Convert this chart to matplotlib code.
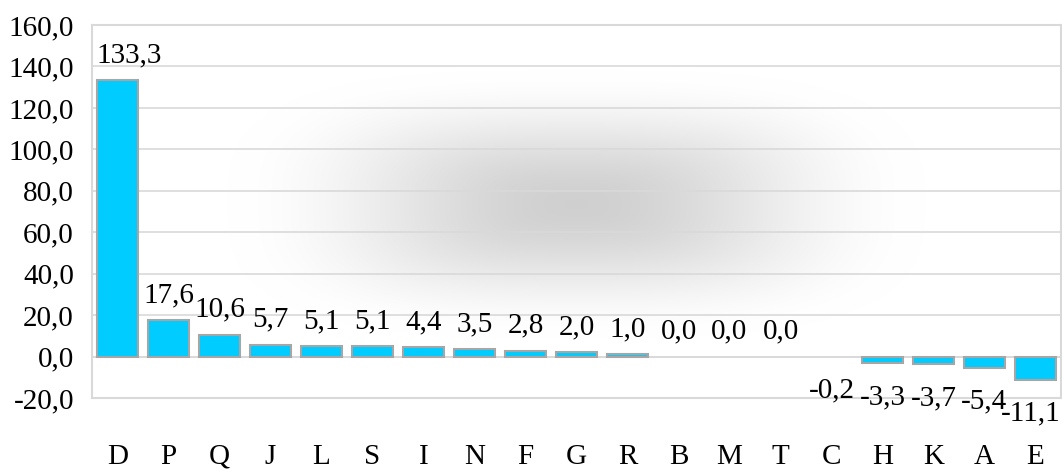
import numpy as np
import matplotlib
matplotlib.use("Agg")
import matplotlib.pyplot as plt
from matplotlib.ticker import FuncFormatter
from matplotlib.transforms import ScaledTranslation

categories = ["D", "P", "Q", "J", "L", "S", "I", "N", "F", "G", "R", "B", "M", "T", "C", "H", "K", "A", "E"]
values = [133.3, 17.6, 10.6, 5.7, 5.1, 5.1, 4.4, 3.5, 2.8, 2.0, 1.0, 0.0, 0.0, 0.0, -0.2, -3.3, -3.7, -5.4, -11.1]
y_ticks = [-20, 0, 20, 40, 60, 80, 100, 120, 140, 160]

plt.rcParams['font.family'] = ['Liberation Serif', 'DejaVu Serif']
FS = 21

fig = plt.figure(figsize=(10.62, 4.70), dpi=100)
ax = fig.add_axes([92/1062, 72/470, (1061-92)/1062, (398-25)/470])

# background gradient (soft blob from center)
nx, ny = 800, 400
xs = np.linspace(-1, 1, nx)
ys = np.linspace(-1, 1, ny)
X, Y = np.meshgrid(xs, ys)
p = 3.0
d = ((np.abs(X) / 0.72) ** p + (np.abs(Y + 0.04) / 0.72) ** p) ** (1 / p)
d = np.clip(d, 0, 1)
s = d * d * (3 - 2 * d)
g = 0.815 + 0.185 * s
img = np.dstack([g, g, g])
ax.imshow(img, extent=(0, 1, 0, 1), transform=ax.transAxes, aspect='auto', zorder=0, interpolation='bilinear')

x = np.arange(len(categories))
lws = [0 if abs(v) < 0.5 else 1.5 for v in values]
ax.bar(x, values, width=0.82, color='#00CCFF', edgecolor='#A6A6A6', linewidth=lws, zorder=3)

texts = []
for xi, v in zip(x, values):
    lbl = f"{v:.1f}".replace('.', ',')
    if v >= 0:
        t = ax.annotate(lbl, (xi, v), xytext=(0, 13), textcoords='offset points',
                        ha='center', va='baseline', fontsize=FS, zorder=4, annotation_clip=False)
    else:
        t = ax.annotate(lbl, (xi, v), xytext=(0, -15), textcoords='offset points',
                        ha='center', va='top', fontsize=FS, zorder=4, annotation_clip=False)
    texts.append(t)

ax.set_xlim(-0.5, len(categories) - 0.5)
ax.set_ylim(-20, 160)
ax.set_yticks(y_ticks)
ax.yaxis.set_major_formatter(FuncFormatter(lambda v, p: f"{v:.1f}".replace('.', ',')))
ax.set_xticks(x)
ax.set_xticklabels(categories)
ax.tick_params(axis='both', length=0, labelsize=FS)
ax.tick_params(axis='x', pad=33)
ax.tick_params(axis='y', pad=13)
ax.grid(axis='y', color='#D9D9D9', linewidth=1.2, zorder=1)
ax.set_axisbelow(True)
for sp in ax.spines.values():
    sp.set_color('#D9D9D9')
    sp.set_linewidth(1.5)
ax.axhline(0, color='#D9D9D9', linewidth=1.2, zorder=2)

# keep data labels inside the plot area horizontally (like Excel)
fig.canvas.draw()
renderer = fig.canvas.get_renderer()
abox = ax.get_window_extent(renderer)
for t in texts:
    bb = t.get_window_extent(renderer)
    shift = 0.0
    if bb.x0 < abox.x0 + 4:
        shift = abox.x0 + 4 - bb.x0
    elif bb.x1 > abox.x1:
        shift = abox.x1 - bb.x1
    if shift:
        ox, oy = t.xyann
        t.xyann = (ox + shift * 72.0 / fig.dpi, oy)

fig.savefig("out.png", dpi=100)
